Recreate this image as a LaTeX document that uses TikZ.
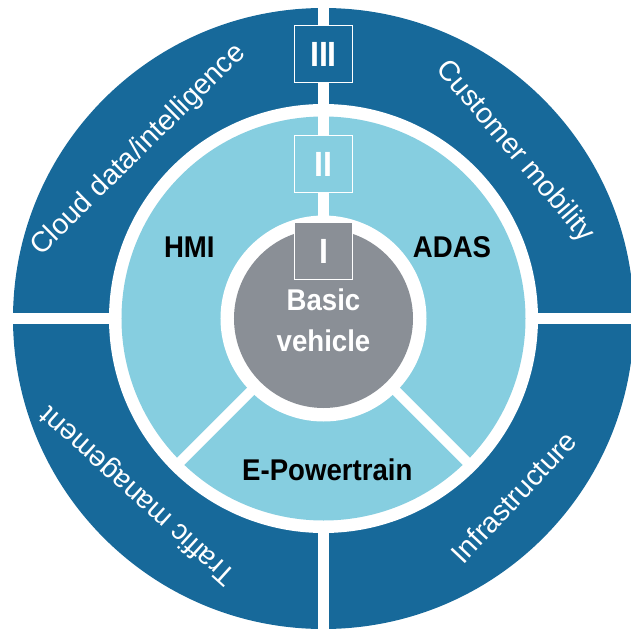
\documentclass[tikz,border=0pt]{standalone}
\usepackage{fontspec}
\setmainfont{Liberation Sans}
\newfontfamily\narrowfont[FakeStretch=0.92]{Liberation Sans}
\usepackage{xcolor}
\usepackage{tikz}
\usetikzlibrary{positioning}
\definecolor{ringdark}{HTML}{17699A}
\definecolor{ringlight}{HTML}{86CEE0}
\definecolor{coregray}{HTML}{8A8F96}
\tikzstyle{levelbox}=[rectangle,draw=white,line width=1.5pt,minimum width=58pt,minimum height=57pt,inner sep=0pt,text=white,font={\narrowfont\bfseries\fontsize{35}{35}\selectfont}]
\tikzstyle{outerlabel}=[text=white,inner sep=0pt,font={\fontsize{28.5}{30}\selectfont}]
\tikzstyle{innerlabel}=[inner sep=0pt,anchor=base,font={\narrowfont\bfseries\fontsize{30}{36}\selectfont}]
\tikzstyle{spoke} = [draw=white,line width=10pt]
\tikzset{corelabel/.style={text=white,align=center,inner sep=0pt,font={\narrowfont\bfseries\fontsize{30}{40.7}\selectfont}}}

\begin{document}
\begin{tikzpicture}[x=1pt,y=1pt]

  \def\R{310.5};
  \useasboundingbox (-323.5,-310.5) rectangle (307.5,318.5);

  \foreach \r/\col in {\R/ringdark, 214.5/white, 202/ringlight, 103/white, 89.5/coregray}
         \fill[\col] (0,0) circle (\r);

  \foreach \x/\y/\w/\h in {-5.8/95/11.6/225, -5.8/-320/11.6/115, -320/-5.5/115/11, 205/-5.5/115/11}
         \fill[white] (\x,\y) rectangle ++(\w,\h);

  \foreach \a in {-45,-135}
         \path[spoke] (\a:95) -- (\a:208);

   \foreach \y/\name/\label/\col in {264.5/boxiii/III/ringdark, 154.5/boxii/II/ringlight, 67.5/boxi/I/coregray}
          \node[levelbox,fill=\col] (\name) at (0,\y) {\label};

   \foreach \a/\r/\rot/\name/\label in {137.7/250/44.6/cloud/{Cloud data/intelligence}, 41.1/254/-49.7/mobility/{Customer mobility},
                                        223.7/255.7/138/traffic/{Traffic management}, -43.2/260.7/46.7/infra/{Infrastructure}}
          \node[outerlabel,rotate=\rot] (\name) at (\a:\r) {\label};

   \foreach \x/\y/\name/\label in {-134.2/61.2/hmi/HMI, 128.5/61.2/adas/ADAS, 3.8/-162.2/powertrain/E-Powertrain}
          \node[innerlabel] (\name) at (\x,\y) {\label};

  \node[corelabel] (core) at (0,-2) {Basic\\vehicle};

\end{tikzpicture}
\end{document}
